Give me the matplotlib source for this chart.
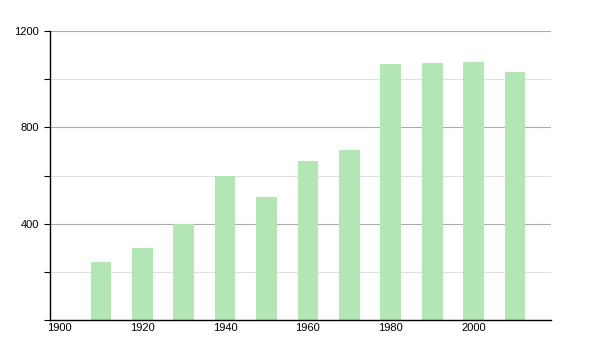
import matplotlib.pyplot as plt
from matplotlib.ticker import MultipleLocator

years = [1910, 1920, 1930, 1940, 1950, 1960, 1970, 1980, 1990, 2000, 2010]
values = [241, 299, 400, 598, 511, 660, 706, 1063, 1067, 1071, 1030]
xticks = [1900, 1920, 1940, 1960, 1980, 2000]
yticks = [400, 800, 1200]

plt.rcParams['font.family'] = ['Liberation Sans', 'DejaVu Sans']

fig = plt.figure(figsize=(6, 3.5), dpi=100)
ax = fig.add_axes([50 / 600, 30 / 350, 501 / 600, 289 / 350])

ax.bar(years, values, width=5, color='#b3e6b5', zorder=2)

ax.set_xlim(1897.7, 2018.7)
ax.set_ylim(0, 1200)
ax.set_xticks(xticks)
ax.set_yticks(yticks)
ax.yaxis.set_minor_locator(MultipleLocator(200))

ax.grid(True, axis='y', which='major', color='#aaaaaa', linewidth=0.8, zorder=0)
ax.grid(True, axis='y', which='minor', color='#e0e0e0', linewidth=0.8, zorder=0)

ax.spines['top'].set_visible(False)
ax.spines['right'].set_visible(False)
ax.spines['left'].set_linewidth(1)
ax.spines['bottom'].set_linewidth(1)
ax.tick_params(axis='x', length=0, labelsize=8, pad=2)
ax.tick_params(axis='y', which='both', length=4, width=0.8, labelsize=8, pad=4)

plt.savefig('out.png', dpi=100)
